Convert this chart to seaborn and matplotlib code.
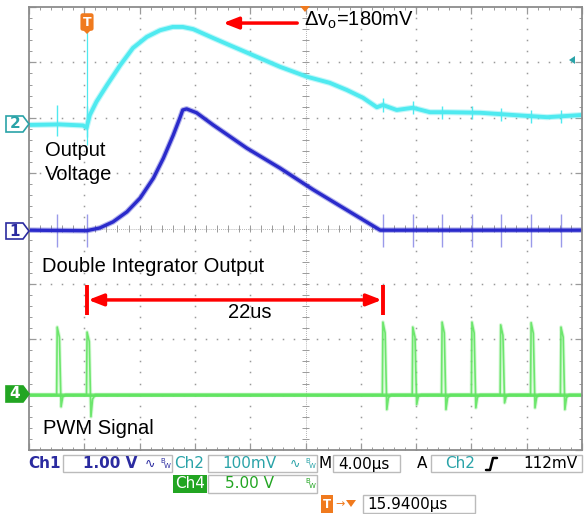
import numpy as np
import pandas as pd
import matplotlib
matplotlib.use("Agg")
import matplotlib.pyplot as plt
from matplotlib.patches import Polygon, Rectangle
import seaborn as sns

sns.set_style("white")
plt.rcParams["font.family"] = ["Liberation Sans", "DejaVu Sans"]
plt.rcParams["mathtext.fontset"] = "custom"
plt.rcParams["mathtext.rm"] = "Liberation Sans"
plt.rcParams["mathtext.it"] = "Liberation Sans:italic"

# scope screen: 10 x 8 divisions, 4 us/div
CYAN  = "#4FEAF0"
BLUE  = "#2A2ACB"
GREEN = "#62E462"
GRID  = "#9A9A9A"
ORANGE = "#F07A1E"
TEAL  = "#2AA3A8"
DKBLUE = "#2B2BA0"
DKGREEN = "#22A522"

# Ch2 - output voltage (divisions)
ch2_t = [0, 0.55, 0.98, 1.04, 1.10, 1.22, 1.41, 1.65, 1.88, 2.13, 2.37, 2.60, 2.78,
         2.97, 3.33, 3.63, 4.05, 4.54, 5.03, 5.44, 5.75, 6.04, 6.29, 6.40, 6.65,
         6.94, 7.25, 7.56, 8.16, 8.75, 9.37, 10.0]
ch2_v = [1.87, 1.88, 1.86, 1.82, 2.05, 2.29, 2.59, 2.95, 3.26, 3.46, 3.58, 3.64, 3.64,
         3.60, 3.44, 3.31, 3.13, 2.92, 2.74, 2.63, 2.50, 2.36, 2.19, 2.23, 2.14,
         2.18, 2.10, 2.10, 2.09, 2.05, 2.01, 2.05]

# Ch1 - double integrator output
ch1_t = [0, 1.04, 1.28, 1.52, 1.77, 2.01, 2.25, 2.43, 2.61, 2.73, 2.78, 2.85,
         3.03, 3.33, 3.94, 4.54, 5.14, 6.35, 10.0]
ch1_v = [-0.03, -0.04, 0.01, 0.12, 0.30, 0.55, 0.91, 1.27, 1.69, 2.00, 2.14, 2.16,
         2.09, 1.87, 1.45, 1.09, 0.70, -0.03, -0.03]

# Ch4 - PWM signal, baseline and pulse edges
ch4_base = -3.0
pwm_t    = [0.51, 1.05, 6.40, 6.94, 7.47, 8.01, 8.53, 9.08, 9.62]
pwm_peak = [-1.78, -1.87, -1.69, -1.78, -1.69, -1.69, -1.74, -1.70, -1.78]
pwm_dip  = [-3.22, -3.40, -3.27, -3.18, -3.27, -3.24, -3.15, -3.24, -3.27]

# pulse template (offset in div, fraction: 1 = peak, -1 = dip)
pulse_dt = [-0.01, 0.0, 0.04, 0.07, 0.10, 0.15]
pulse_k  = [0, 1, 0.85, -1, -0.2, 0]

pts_t, pts_v = [0.0], [ch4_base]
for tp, pk, dp in zip(pwm_t, pwm_peak, pwm_dip):
    for dt, k in zip(pulse_dt, pulse_k):
        pts_t.append(tp + dt)
        if k >= 0:
            pts_v.append(ch4_base + k * (pk - ch4_base))
        else:
            pts_v.append(ch4_base - k * (dp - ch4_base))
pts_t.append(10.0)
pts_v.append(ch4_base)

df1 = pd.DataFrame({"t": ch1_t, "v": ch1_v})
df2 = pd.DataFrame({"t": ch2_t, "v": ch2_v})
df4 = pd.DataFrame({"t": pts_t, "v": pts_v})
df4_base = pd.DataFrame({"t": [0.0, 10.0], "v": [ch4_base, ch4_base]})

fig = plt.figure(figsize=(5.85, 5.14), dpi=100)
ax = fig.add_axes([29 / 585, 64 / 514, 553 / 585, 443 / 514])
ax.set_xlim(0, 10)
ax.set_ylim(-4, 4)

# graticule dots
dots = np.arange(0, 10.001, 0.2)
dots_y = np.arange(-4, 4.001, 0.2)
for gx in [1, 2, 3, 4, 6, 7, 8, 9]:
    ax.plot(np.full_like(dots_y, gx), dots_y, ls="none", marker="s", ms=1.1, color=GRID, mec="none")
for gy in [-3, -2, -1, 1, 2, 3]:
    ax.plot(dots, np.full_like(dots, gy), ls="none", marker="s", ms=1.1, color=GRID, mec="none")
# centre cross with ticks
ax.axhline(0, color=GRID, lw=0.6, ls=(0, (1, 1.5)))
ax.axvline(5, color=GRID, lw=0.6, ls=(0, (1, 1.5)))
ax.vlines(dots, -0.06, 0.06, color=GRID, lw=0.7)
ax.hlines(dots_y, 4.94, 5.06, color=GRID, lw=0.7)

# coupling spikes on Ch1 / Ch2 at the PWM edges
c1 = np.interp(pwm_t, ch1_t, ch1_v)
c2 = np.interp(pwm_t, ch2_t, ch2_v)
ax.vlines(pwm_t, c1 - 0.3, c1 + 0.3, color="#9A9AEA", lw=1.0)
ax.vlines(pwm_t[:2], c2[:2] - 0.2, c2[:2] + 0.35, color=CYAN, lw=1.0)
ax.vlines(pwm_t[2:], c2[2:] - 0.12, c2[2:] + 0.12, color=CYAN, lw=1.0)
ax.vlines([1.05], 1.5, 3.55, color=CYAN, lw=0.9)

# traces (a soft wide pass and a solid pass)
sns.lineplot(data=df4, x="t", y="v", sort=False, estimator=None, color=GREEN,
             lw=2.6, alpha=0.25, ax=ax)
sns.lineplot(data=df4, x="t", y="v", sort=False, estimator=None, color=GREEN,
             lw=1.2, alpha=0.9, ax=ax)
sns.lineplot(data=df4_base, x="t", y="v", sort=False, estimator=None, color=GREEN,
             lw=3.0, alpha=0.55, ax=ax)
sns.lineplot(data=df4_base, x="t", y="v", sort=False, estimator=None, color=GREEN,
             lw=1.8, ax=ax)
for d, c, lw in [(df1, BLUE, 2.4), (df2, CYAN, 2.8)]:
    sns.lineplot(data=d, x="t", y="v", sort=False, estimator=None, color=c,
                 lw=lw + 1.6, alpha=0.35, ax=ax)
    sns.lineplot(data=d, x="t", y="v", sort=False, estimator=None, color=c,
                 lw=lw, ax=ax)

# red markers
ax.annotate("", xy=(3.51, 3.71), xytext=(4.85, 3.71),
            arrowprops=dict(arrowstyle="-|>,head_length=0.9,head_width=0.35",
                            color="red", lw=2.5, shrinkA=0, shrinkB=0))
ax.annotate("", xy=(1.07, -1.29), xytext=(6.38, -1.29),
            arrowprops=dict(arrowstyle="<|-|>,head_length=0.9,head_width=0.35",
                            color="red", lw=2.5, shrinkA=0, shrinkB=0))
ax.vlines([1.05, 6.40], -1.02, -1.56, color="red", lw=2.8)

ax.set_xticks(range(11))
ax.set_yticks(range(-4, 5))
ax.set_xticks(dots, minor=True)
ax.set_yticks(dots_y, minor=True)
ax.tick_params(which="both", direction="in", top=True, right=True, bottom=True, left=True,
               labelbottom=False, labelleft=False, color=GRID)
ax.tick_params(which="major", length=5, width=0.9)
ax.tick_params(which="minor", length=2.5, width=0.7)
ax.set_xlabel("")
ax.set_ylabel("")
for s in ax.spines.values():
    s.set_color("#8C8C8C")
    s.set_linewidth(1.3)

# overlay in pixel coordinates for labels and scope readouts
ov = fig.add_axes([0, 0, 1, 1], zorder=5)
ov.set_xlim(0, 585)
ov.set_ylim(514, 0)
ov.axis("off")
ov.patch.set_alpha(0)

lab = dict(fontsize=14.5, va="center", color="black")
ov.text(45, 150, "Output", **lab)
ov.text(45, 175, "Voltage", **lab)
ov.text(42, 266, "Double Integrator Output", **lab)
ov.text(43, 428, "PWM Signal", **lab)
ov.text(228, 313, "22us", **lab)
ov.text(304, 20, r"Δv$_\mathrm{o}$=180mV", **lab)

# channel markers
def ch_marker(yc, txt, col, filled):
    pts = [(6, yc - 8), (23, yc - 8), (29, yc), (23, yc + 8), (6, yc + 8)]
    ov.add_patch(Polygon(pts, closed=True, fc=col if filled else "white", ec=col, lw=1.2))
    ov.text(15, yc, txt, ha="center", va="center", fontsize=11, fontweight="bold",
            family="DejaVu Sans", color="white" if filled else col)

ch_marker(124, "2", TEAL, False)
ch_marker(231, "1", DKBLUE, False)
ch_marker(394, "4", DKGREEN, True)

# trigger markers
ov.text(87, 22, "T", ha="center", va="center", fontsize=9, fontweight="bold", color="white",
        family="DejaVu Sans", bbox=dict(boxstyle="round,pad=0.18", fc=ORANGE, ec="none"))
ov.add_patch(Polygon([(82, 29), (92, 29), (87, 34)], fc=ORANGE, ec="none"))
ov.add_patch(Polygon([(300, 6), (310, 6), (305, 12)], fc=ORANGE, ec="none"))
ov.add_patch(Polygon([(569, 60), (575, 56), (575, 64)], fc=TEAL, ec="none"))

# readout panel
mono = dict(fontsize=11, va="center", family="DejaVu Sans")
box = dict(fc="white", ec="#BBBBBB", lw=1.0)
ov.add_patch(Rectangle((63, 455), 109, 17, **box))
ov.add_patch(Rectangle((208, 455), 109, 17, **box))
ov.add_patch(Rectangle((333, 455), 67, 17, **box))
ov.add_patch(Rectangle((431, 455), 151, 17, **box))
ov.add_patch(Rectangle((208, 475), 109, 18, **box))
ov.add_patch(Rectangle((363, 495), 112, 18, **box))
ov.add_patch(Rectangle((173, 475), 34, 18, fc=DKGREEN, ec="none"))

ov.text(28, 464, "Ch1", color=DKBLUE, fontweight="bold", **mono)
ov.text(83, 464, "1.00 V", color=DKBLUE, fontweight="bold", **mono)
ov.text(145, 464, "∿", color=DKBLUE, fontsize=9, va="center", family="DejaVu Sans")
ov.text(160, 461, "B", color=DKBLUE, fontsize=5, va="center", family="DejaVu Sans")
ov.text(164, 466, "W", color=DKBLUE, fontsize=5, va="center", family="DejaVu Sans")
ov.text(174, 464, "Ch2", color=TEAL, **mono)
ov.text(222, 464, "100mV", color=TEAL, **mono)
ov.text(290, 464, "∿", color=TEAL, fontsize=9, va="center", family="DejaVu Sans")
ov.text(305, 461, "B", color=TEAL, fontsize=5, va="center", family="DejaVu Sans")
ov.text(309, 466, "W", color=TEAL, fontsize=5, va="center", family="DejaVu Sans")
ov.text(319, 464, "M", color="black", **mono)
ov.text(338, 464, "4.00µs", color="black", **mono)
ov.text(417, 464, "A", color="black", **mono)
ov.text(445, 464, "Ch2", color=TEAL, **mono)
ov.plot([486, 490, 493, 497], [470, 470, 458, 458], color="black", lw=1.8)
ov.text(523, 464, "112mV", color="black", **mono)

ov.text(175, 484, "Ch4", color="white", **mono)
ov.text(225, 484, "5.00 V", color=DKGREEN, **mono)
ov.text(305, 481, "B", color=DKGREEN, fontsize=5, va="center", family="DejaVu Sans")
ov.text(309, 486, "W", color=DKGREEN, fontsize=5, va="center", family="DejaVu Sans")

ov.text(327, 504, "T", ha="center", color="white", fontsize=8.5, fontweight="bold", va="center",
        family="DejaVu Sans", bbox=dict(boxstyle="square,pad=0.2", fc=ORANGE, ec="none"))
ov.text(335, 504, "→", color=ORANGE, fontsize=8, va="center", family="DejaVu Sans")
ov.add_patch(Polygon([(346, 500), (356, 500), (351, 507)], fc=ORANGE, ec="none"))
ov.text(367, 504, "15.9400µs", color="black", **mono)

fig.savefig("out.png", dpi=100)
